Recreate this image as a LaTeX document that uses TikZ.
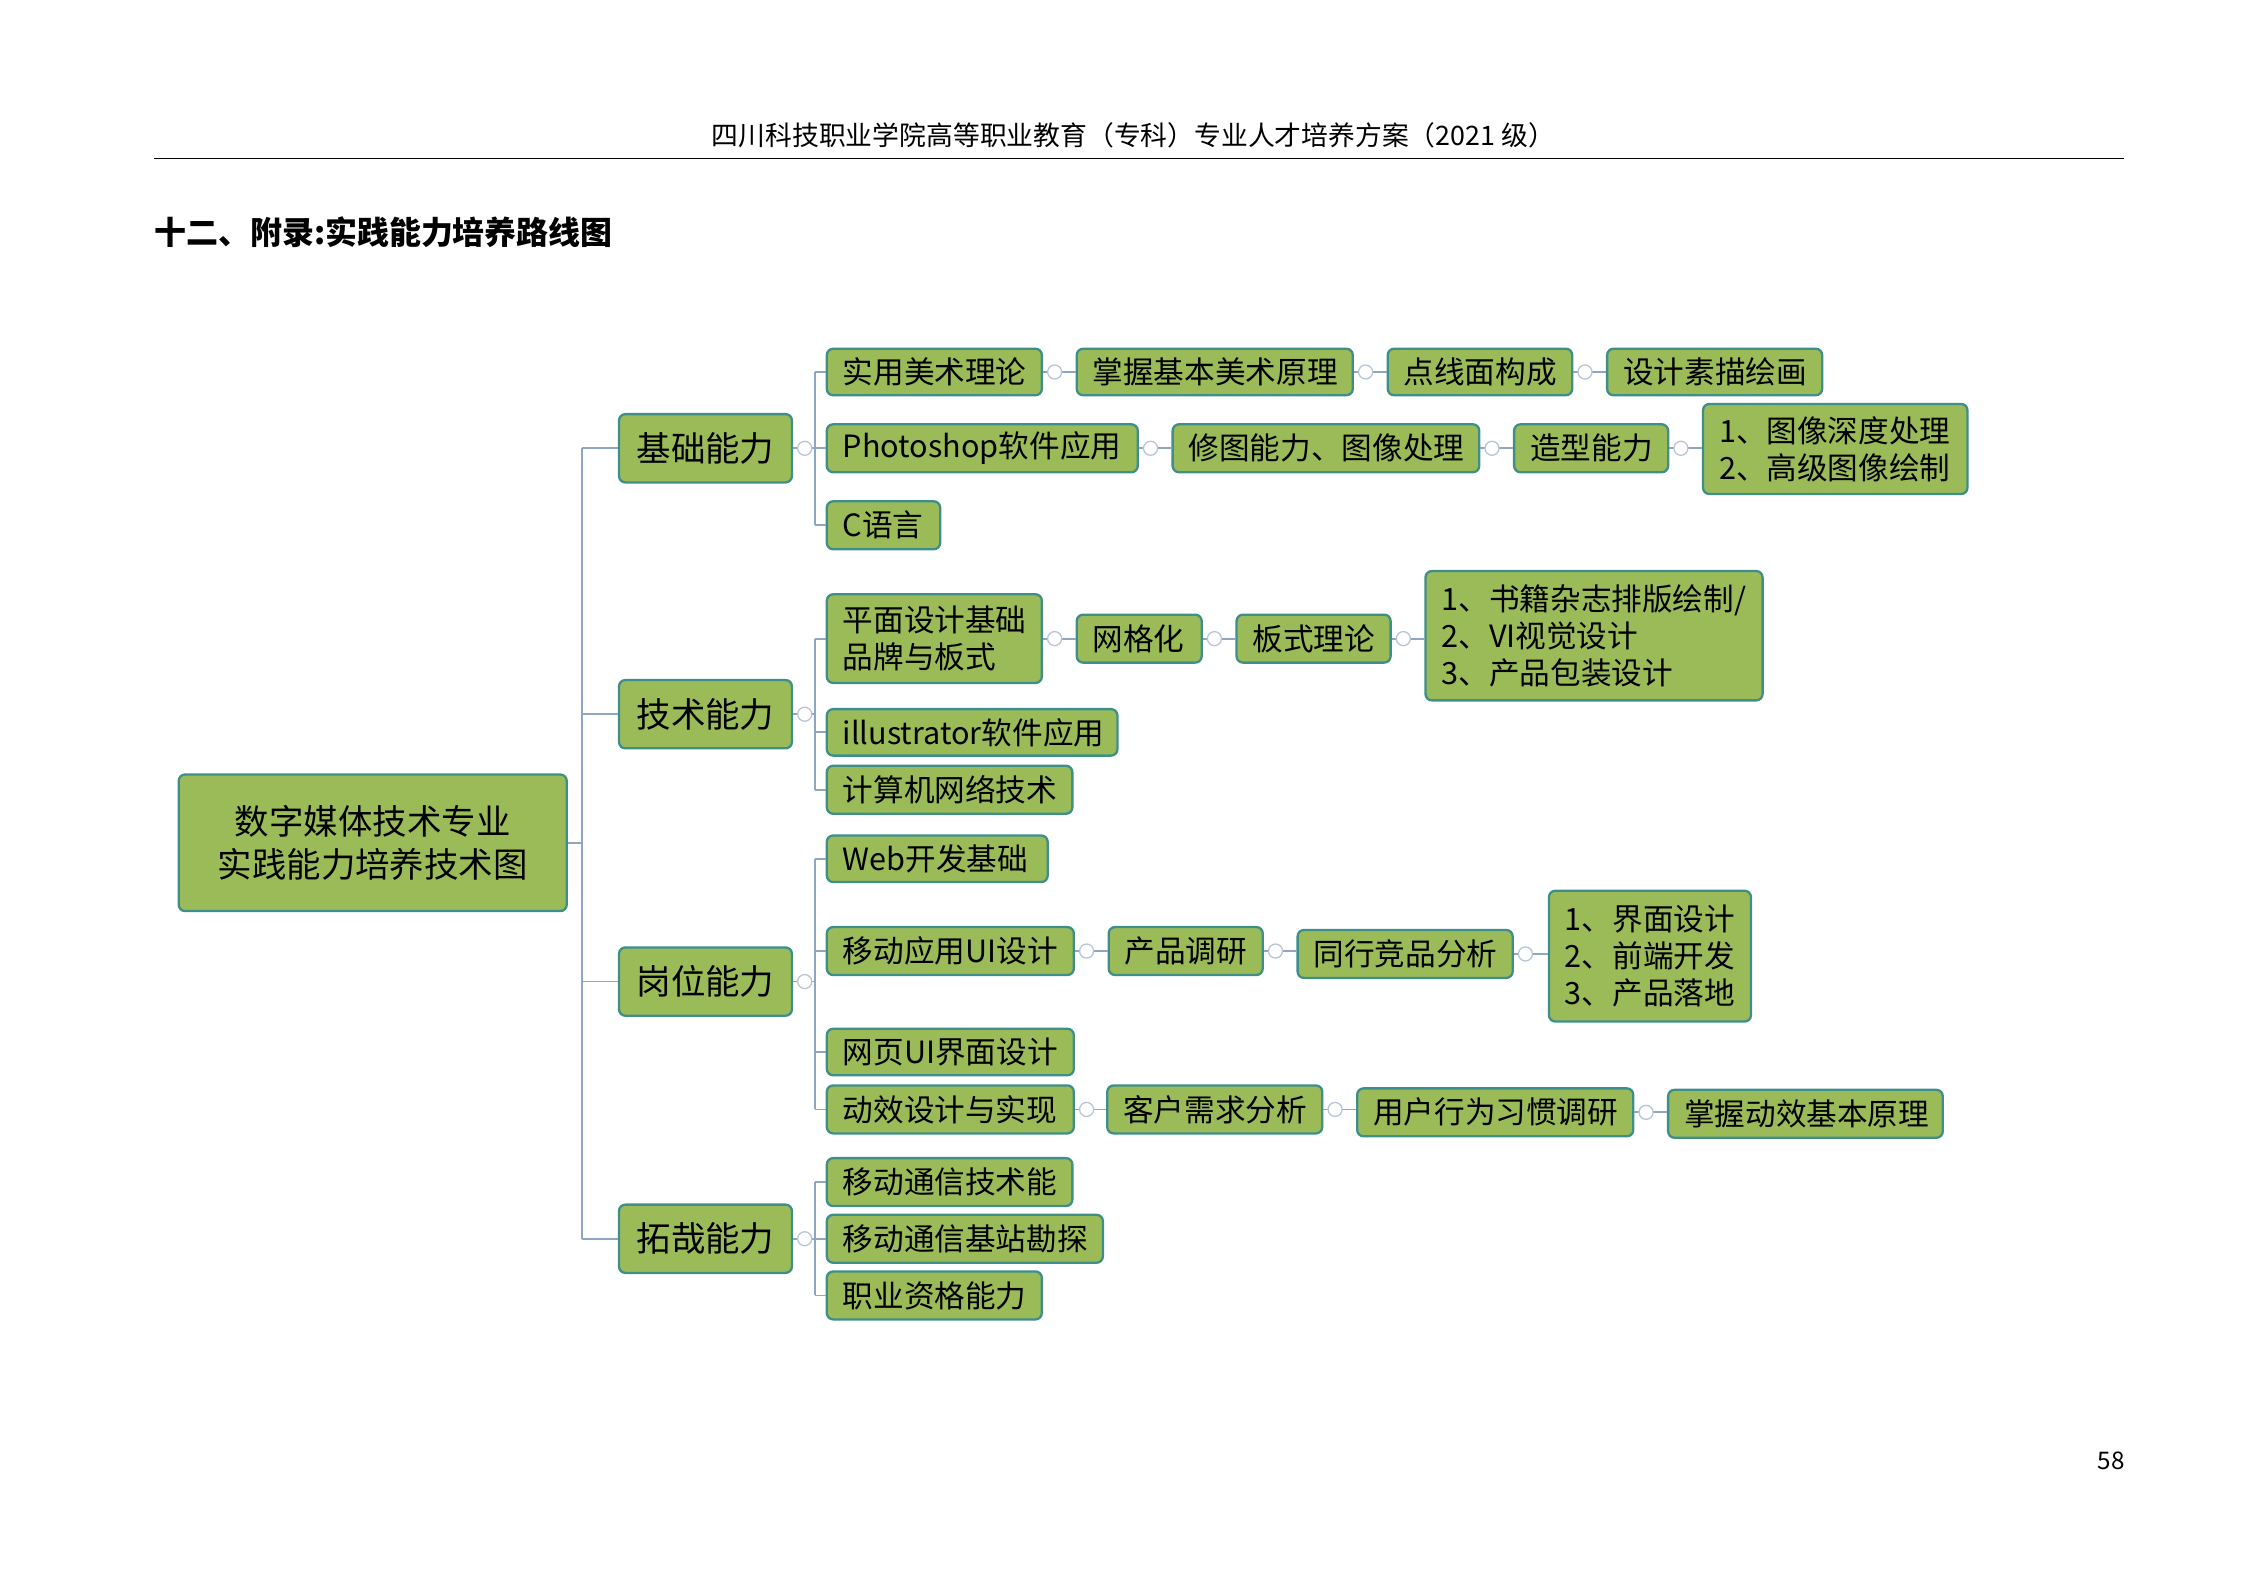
\documentclass[tikz,border=0pt]{standalone}
\usepackage{fontspec}
\setmainfont{Noto Sans CJK SC}
\begin{document}
\begin{tikzpicture}[x=0.02cm,y=-0.02cm,
  bx/.style={draw=boxline,fill=boxfill,rounded corners=2.5pt,line width=0.9pt,inner sep=0pt},
  conn/.style={draw=lineclr,line width=0.7pt},
  dot/.style={circle,draw=dotclr,fill=white,line width=0.5pt,inner sep=0pt,minimum size=5.5pt}]
\definecolor{boxfill}{HTML}{9BBB59}
\definecolor{boxline}{HTML}{3E8F8A}
\definecolor{lineclr}{HTML}{8EA6C4}
\definecolor{dotclr}{HTML}{B8C4D6}
\useasboundingbox (0,0) rectangle (1545,1092);
\newcommand{\bxx}[7]{%
  \pgfmathsetmacro\cx{(#2+#3)/2}\pgfmathsetmacro\cy{(#4+#5)/2}%
  \pgfmathsetmacro\ww{(#3-#2)*0.02}\pgfmathsetmacro\hh{(#5-#4)*0.02}\pgfmathsetmacro\tw{(#3-#2-22)*0.02}%
  \node[bx,minimum width=\ww cm,minimum height=\hh cm,font=\fontsize{#7}{14}\selectfont] (#1) at (\cx,\cy) {\parbox{\tw cm}{\raggedright\baselineskip=14.5pt #6}};}
\newcommand{\bxc}[7]{%
  \pgfmathsetmacro\cx{(#2+#3)/2}\pgfmathsetmacro\cy{(#4+#5)/2}%
  \pgfmathsetmacro\ww{(#3-#2)*0.02}\pgfmathsetmacro\hh{(#5-#4)*0.02}%
  \node[bx,minimum width=\ww cm,minimum height=\hh cm,align=center,font=\fontsize{#7}{17}\selectfont] (#1) at (\cx,\cy) {#6};}
% header
\node[font=\fontsize{10.5}{12}\selectfont] (hdr) at (780,93) {四川科技职业学院高等职业教育（专科）专业人才培养方案（2021 级）};
\draw[line width=0.5pt] (106,109) -- (1462,109);
\node[anchor=west,font=\fontsize{12.5}{14}\selectfont\bfseries,inner sep=0pt] (ttl) at (106,160) {十二、附录:实践能力培养路线图};
\node[font=\fontsize{9.5}{11}\selectfont] (pg) at (1453,1005) {58};
% root and level1
\bxc{root}{123}{390}{533}{627}{数字媒体技术专业\\实践能力培养技术图}{13.5}
\bxc{A}{426}{545}{285}{332}{基础能力}{13.5}
\bxc{B}{426}{545}{468}{515}{技术能力}{13.5}
\bxc{C}{426}{545}{652}{699}{岗位能力}{13.5}
\bxc{D}{426}{545}{829}{876}{拓哉能力}{13.5}
% level 2+
\bxx{a1}{569}{717}{240}{272}{实用美术理论}{12}
\bxx{a11}{741}{931}{240}{272}{掌握基本美术原理}{12}
\bxx{a12}{955}{1082}{240}{272}{点线面构成}{12}
\bxx{a13}{1106}{1254}{240}{272}{设计素描绘画}{12}
\bxx{a2}{569}{783}{292}{325}{Photoshop软件应用}{12}
\bxx{a21}{807}{1018}{292}{325}{修图能力、图像处理}{12}
\bxx{a22}{1042}{1148}{292}{325}{造型能力}{12}
\bxx{a23}{1172}{1354}{278}{340}{1、图像深度处理\\2、高级图像绘制}{12}
\bxx{a3}{569}{647}{345}{378}{C语言}{12}
\bxx{b1}{569}{717}{409}{470}{平面设计基础\\品牌与板式}{12}
\bxx{b11}{741}{827}{423}{456}{网格化}{12}
\bxx{b12}{851}{957}{423}{456}{板式理论}{12}
\bxx{b13}{981}{1213}{393}{482}{1、书籍杂志排版绘制/\\2、VI视觉设计\\3、产品包装设计}{12}
\bxx{b2}{569}{769}{488}{520}{illustrator软件应用}{12}
\bxx{b3}{569}{738}{527}{560}{计算机网络技术}{12}
\bxx{c1}{569}{721}{575}{607}{Web开发基础}{12}
\bxx{c2}{569}{739}{638}{671}{移动应用UI设计}{12}
\bxx{c21}{763}{869}{638}{671}{产品调研}{12}
\bxx{c22}{893}{1041}{640}{673}{同行竞品分析}{12}
\bxx{c23}{1066}{1205}{613}{703}{1、界面设计\\2、前端开发\\3、产品落地}{12}
\bxx{c3}{569}{739}{708}{740}{网页UI界面设计}{12}
\bxx{c4}{569}{739}{747}{780}{动效设计与实现}{12}
\bxx{c41}{762}{910}{747}{780}{客户需求分析}{12}
\bxx{c42}{934}{1124}{749}{782}{用户行为习惯调研}{12}
\bxx{c43}{1148}{1337}{750}{783}{掌握动效基本原理}{12}
\bxx{d1}{569}{738}{797}{830}{移动通信技术能}{12}
\bxx{d2}{569}{759}{836}{869}{移动通信基站勘探}{12}
\bxx{d3}{569}{717}{875}{908}{职业资格能力}{12}
% root connectors
\draw[conn] (root.east) -- ++(10,0) coordinate (rj);
\draw[conn] (rj |- A.west) -- (rj |- D.west);
\foreach \n in {A,B,C,D} \draw[conn] (rj |- \n.west) -- (\n.west);
\newcommand{\fan}[3]{%
  \draw[conn] (#1.east) -- ++(15,0) coordinate (#1j);
  \node[dot] (#1d) at ([xshift=8*0.02cm]#1.east) {};
  \draw[conn] (#1j |- #2.west) -- (#1j |- #3.west);
  \foreach \n in {#2,#3} \draw[conn] (#1j |- \n.west) -- (\n.west);}
\fan{A}{a1}{a3}\draw[conn] (Aj |- a2.west) -- (a2.west);
\fan{B}{b1}{b3}\draw[conn] (Bj |- b2.west) -- (b2.west);
\fan{C}{c1}{c4}\draw[conn] (Cj |- c2.west) -- (c2.west);\draw[conn] (Cj |- c3.west) -- (c3.west);
\fan{D}{d1}{d3}\draw[conn] (Dj |- d2.west) -- (d2.west);
\newcommand{\chain}[2]{%
  \draw[conn] (#1.east) -- (#1.east -| #2.west);
  \node[dot] at ([xshift=8*0.02cm]#1.east) {};}
\chain{a1}{a11}\chain{a11}{a12}\chain{a12}{a13}
\chain{a2}{a21}\chain{a21}{a22}\chain{a22}{a23}
\chain{b1}{b11}\chain{b11}{b12}\chain{b12}{b13}
\chain{c2}{c21}\chain{c21}{c22}\chain{c22}{c23}
\chain{c4}{c41}\chain{c41}{c42}\chain{c42}{c43}
\end{tikzpicture}
\end{document}
